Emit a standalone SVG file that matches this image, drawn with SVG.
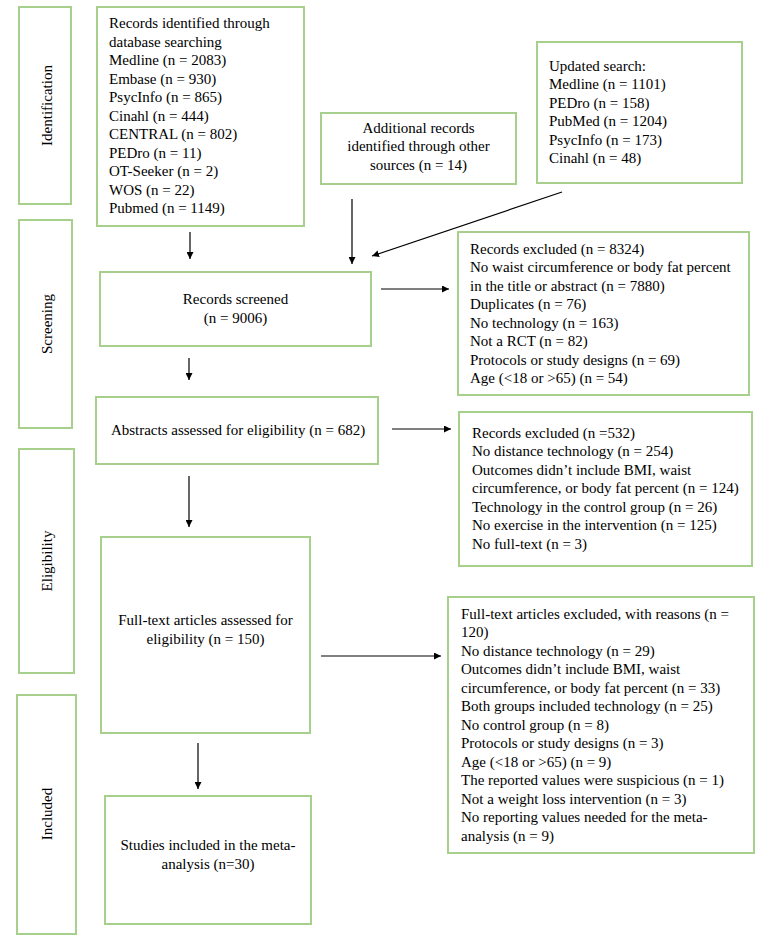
<svg xmlns="http://www.w3.org/2000/svg" width="782" height="938" viewBox="0 0 782 938">
<defs>
<marker id="ah" viewBox="0 0 10 10" refX="10" refY="5" markerWidth="7" markerHeight="7" markerUnits="userSpaceOnUse" orient="auto">
<path d="M0,0 L10,5 L0,10 z" fill="#000"/>
</marker>
<style>
.box{fill:#fff;stroke:#a8d08d;stroke-width:2}
text{font-family:"Liberation Serif","Times New Roman",serif;font-size:15px;fill:#000}
.c{text-anchor:middle}
.conn line{stroke:#000;stroke-width:1.2;marker-end:url(#ah)}
</style>
</defs>
<rect width="782" height="938" fill="#fff"/>

<g id="stage-identification">
<rect class="box" x="19" y="7" width="52" height="197"/>
<text class="c" transform="translate(52,105.5) rotate(-90)">Identification</text>
</g>
<g id="stage-screening">
<rect class="box" x="19" y="220" width="53" height="208"/>
<text class="c" transform="translate(52,324) rotate(-90)">Screening</text>
</g>
<g id="stage-eligibility">
<rect class="box" x="19" y="449" width="55" height="224"/>
<text class="c" transform="translate(52,561) rotate(-90)">Eligibility</text>
</g>
<g id="stage-included">
<rect class="box" x="17" y="695" width="59" height="239"/>
<text class="c" transform="translate(52,814) rotate(-90)">Included</text>
</g>

<g id="records-identified">
<rect class="box" x="97" y="7" width="207" height="219"/>
<text x="109" y="28">Records identified through</text>
<text x="109" y="46.5">database searching</text>
<text x="109" y="65">Medline (n = 2083)</text>
<text x="109" y="83.5">Embase (n = 930)</text>
<text x="109" y="102">PsycInfo (n = 865)</text>
<text x="109" y="120.5">Cinahl (n = 444)</text>
<text x="109" y="139">CENTRAL (n = 802)</text>
<text x="109" y="157.5">PEDro (n = 11)</text>
<text x="109" y="176">OT-Seeker (n = 2)</text>
<text x="109" y="194.5">WOS (n = 22)</text>
<text x="109" y="213">Pubmed (n = 1149)</text>
</g>

<g id="additional-records">
<rect class="box" x="321" y="113" width="195" height="71"/>
<text class="c" x="418.5" y="132.5">Additional records</text>
<text class="c" x="418.5" y="151">identified through other</text>
<text class="c" x="418.5" y="169.5">sources (n = 14)</text>
</g>

<g id="updated-search">
<rect class="box" x="537" y="42" width="205" height="141"/>
<text x="549" y="70.5">Updated search:</text>
<text x="549" y="89">Medline (n = 1101)</text>
<text x="549" y="107.5">PEDro (n = 158)</text>
<text x="549" y="126">PubMed (n = 1204)</text>
<text x="549" y="144.5">PsycInfo (n = 173)</text>
<text x="549" y="163">Cinahl (n = 48)</text>
</g>

<g id="records-screened">
<rect class="box" x="100" y="272" width="271" height="74"/>
<text class="c" x="235.5" y="304">Records screened</text>
<text class="c" x="235.5" y="322.5">(n = 9006)</text>
</g>

<g id="excluded-screening">
<rect class="box" x="458" y="232" width="291" height="163"/>
<text x="470" y="253.5">Records excluded (n = 8324)</text>
<text x="470" y="272">No waist circumference or body fat percent</text>
<text x="470" y="290.5">in the title or abstract (n = 7880)</text>
<text x="470" y="309">Duplicates (n = 76)</text>
<text x="470" y="327.5">No technology (n = 163)</text>
<text x="470" y="346">Not a RCT (n = 82)</text>
<text x="470" y="364.5">Protocols or study designs (n = 69)</text>
<text x="470" y="383">Age (&lt;18 or &gt;65) (n = 54)</text>
</g>

<g id="abstracts">
<rect class="box" x="96" y="397" width="282" height="67"/>
<text class="c" x="238" y="434.5">Abstracts assessed for eligibility (n = 682)</text>
</g>

<g id="excluded-abstracts">
<rect class="box" x="459" y="412" width="293" height="154"/>
<text x="472" y="437.5">Records excluded (n =532)</text>
<text x="472" y="456">No distance technology (n = 254)</text>
<text x="472" y="474.5">Outcomes didn’t include BMI, waist</text>
<text x="472" y="493">circumference, or body fat percent (n = 124)</text>
<text x="472" y="511.5">Technology in the control group (n = 26)</text>
<text x="472" y="530">No exercise in the intervention (n = 125)</text>
<text x="472" y="548.5">No full-text (n = 3)</text>
</g>

<g id="full-text">
<rect class="box" x="101" y="537" width="209" height="196"/>
<text class="c" x="205.5" y="625">Full-text articles assessed for</text>
<text class="c" x="205.5" y="644">eligibility (n = 150)</text>
</g>

<g id="excluded-full-text">
<rect class="box" x="448" y="597" width="306" height="256"/>
<text x="461" y="618.5">Full-text articles excluded, with reasons (n =</text>
<text x="461" y="637">120)</text>
<text x="461" y="655.5">No distance technology (n = 29)</text>
<text x="461" y="674">Outcomes didn’t include BMI, waist</text>
<text x="461" y="692.5">circumference, or body fat percent (n = 33)</text>
<text x="461" y="711">Both groups included technology (n = 25)</text>
<text x="461" y="729.5">No control group (n = 8)</text>
<text x="461" y="748">Protocols or study designs (n = 3)</text>
<text x="461" y="766.5">Age (&lt;18 or &gt;65) (n = 9)</text>
<text x="461" y="785">The reported values were suspicious (n = 1)</text>
<text x="461" y="803.5">Not a weight loss intervention (n = 3)</text>
<text x="461" y="822">No reporting values needed for the meta-</text>
<text x="461" y="840.5">analysis (n = 9)</text>
</g>

<g id="studies-included">
<rect class="box" x="105" y="796" width="206" height="128"/>
<text class="c" x="208" y="849.5">Studies included in the meta-</text>
<text class="c" x="208" y="868.5">analysis (n=30)</text>
</g>

<g id="connectors" class="conn">
<line x1="190" y1="232" x2="190" y2="259"/>
<line x1="352" y1="199" x2="352" y2="264"/>
<line x1="562" y1="192" x2="372" y2="256"/>
<line x1="381" y1="289" x2="449" y2="289"/>
<line x1="189" y1="358" x2="189" y2="380"/>
<line x1="392" y1="429" x2="451" y2="429"/>
<line x1="189" y1="476" x2="189" y2="527"/>
<line x1="321" y1="656" x2="441" y2="656"/>
<line x1="198" y1="743" x2="198" y2="789"/>
</g>
</svg>
